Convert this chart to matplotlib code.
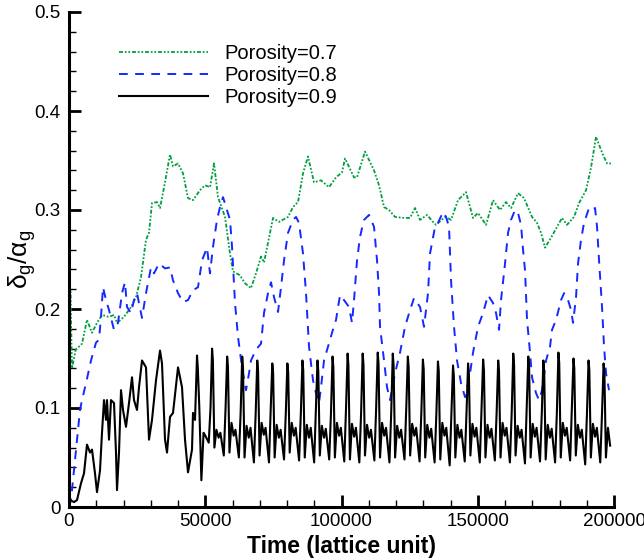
import matplotlib
matplotlib.use("Agg")
import matplotlib.pyplot as plt
from matplotlib.ticker import MultipleLocator, FixedLocator

plt.rcParams['font.family'] = ['Liberation Sans', 'DejaVu Sans']
plt.rcParams['mathtext.fontset'] = 'custom'
plt.rcParams['mathtext.rm'] = 'Liberation Sans'
plt.rcParams['mathtext.it'] = 'Liberation Sans'
plt.rcParams['mathtext.bf'] = 'Liberation Sans:bold'

# ---------------- data ----------------
labels = ["Porosity=0.7", "Porosity=0.8", "Porosity=0.9"]

green_t = [0, 300, 500, 1101, 2459, 3670, 4771, 6606, 8441, 10276, 12111, 14680, 16515,
           17616, 20185, 22754, 24589, 26424, 28259, 29360, 30461, 32296, 33397, 35232,
           37067, 38168, 40003, 41838, 43673, 45508, 48077, 49912, 51747, 53215, 54683,
           57252, 59087, 60188, 62757, 64592, 66794, 68629, 70464, 71565, 73033, 74868,
           77070, 80373, 82208, 84043, 85878, 87713, 89915, 92484, 95420, 97989, 100191,
           101292, 104595, 105696, 108632, 111935, 113770, 115605, 117440, 119642, 122945,
           125147, 126982, 128817, 131386, 133588, 134689, 137992, 140194, 142763, 145699,
           148268, 150103, 153039, 155608, 158177, 160379, 162214, 164783, 166985, 169921,
           171756, 173224, 174692, 176894, 179096, 180931, 182766, 185335, 187170, 189739,
           191574, 193409, 195611, 197446, 198914]
green_v = [0.0, 0.10, 0.219, 0.14, 0.159, 0.162, 0.165, 0.189, 0.176, 0.186, 0.194, 0.192, 0.194,
           0.186, 0.192, 0.202, 0.212, 0.232, 0.270, 0.277, 0.307, 0.308, 0.302, 0.328,
           0.356, 0.344, 0.347, 0.337, 0.312, 0.310, 0.320, 0.325, 0.323, 0.347, 0.313,
           0.293, 0.256, 0.238, 0.234, 0.226, 0.221, 0.236, 0.253, 0.247, 0.267, 0.292,
           0.288, 0.293, 0.303, 0.308, 0.337, 0.354, 0.328, 0.330, 0.323, 0.333, 0.338,
           0.352, 0.333, 0.333, 0.359, 0.340, 0.325, 0.303, 0.300, 0.293, 0.292,
           0.292, 0.302, 0.290, 0.295, 0.288, 0.285, 0.293, 0.290, 0.310, 0.318,
           0.292, 0.297, 0.285, 0.310, 0.300, 0.308, 0.302, 0.317, 0.312, 0.293,
           0.287, 0.277, 0.262, 0.272, 0.283, 0.292, 0.285, 0.293, 0.307, 0.320,
           0.343, 0.374, 0.358, 0.347, 0.347]

blue_t = [0, 734, 1835, 2936, 4037, 4771, 6239, 8074, 9909, 11010, 11744, 12478, 13579, 14680,
          16515, 17983, 19451, 20552, 21286, 22754, 23855, 24956, 26791, 28259, 30094, 31195,
          33030, 35232, 37067, 38168, 40003, 41838, 43673, 45508, 47343, 48811, 50646, 51747,
          52848, 54316, 55417, 56518, 57986, 59087, 59821, 60922, 62023, 63491, 64959, 66060,
          66794, 68629, 70464, 71565, 73033, 74134, 75235, 76703, 77804, 78905, 80373, 82208,
          83309, 84410, 85878, 86979, 88080, 89548, 90649, 91750, 92484, 93585, 95053, 96521,
          97989, 99457, 100925, 102760, 103861, 104595, 105696, 106797, 108265, 110100,
          111935, 113036, 113770, 114137, 115605, 116706, 117807, 119642, 121477, 123312,
          125147, 126615, 128817, 130285, 131753, 132487, 134322, 135423, 137258, 138359,
          139460, 140194, 141295, 142396, 143864, 145332, 147167, 148268, 150103, 151938,
          153773, 155608, 156709, 157810, 158544, 160012, 161113, 162214, 163682, 164783,
          165884, 166618, 167352, 168086, 169187, 169921, 171389, 172490, 173591, 175059,
          176527, 177261, 178729, 180564, 181665, 183133, 184234, 184968, 186069, 186803,
          187904, 189005, 190840, 191941, 193042, 193776, 194510, 195611, 196345, 197079,
          198180]
blue_v = [0.0, 0.007, 0.037, 0.068, 0.098, 0.108, 0.125, 0.148, 0.166, 0.169, 0.192, 0.222, 0.209, 0.199,
          0.179, 0.186, 0.216, 0.227, 0.202, 0.196, 0.209, 0.216, 0.191, 0.216, 0.242, 0.236,
          0.246, 0.241, 0.242, 0.229, 0.216, 0.207, 0.209, 0.219, 0.222, 0.249, 0.262, 0.236,
          0.263, 0.290, 0.303, 0.313, 0.300, 0.290, 0.263, 0.206, 0.172, 0.141, 0.118, 0.135,
          0.148, 0.159, 0.165, 0.196, 0.216, 0.227, 0.212, 0.197, 0.222, 0.249, 0.277, 0.290,
          0.293, 0.287, 0.256, 0.216, 0.162, 0.128, 0.115, 0.105, 0.121, 0.148, 0.162, 0.176,
          0.189, 0.214, 0.209, 0.202, 0.186, 0.209, 0.249, 0.273, 0.290, 0.295,
          0.283, 0.249, 0.216, 0.182, 0.148, 0.121, 0.108, 0.135, 0.156, 0.182,
          0.199, 0.211, 0.202, 0.182, 0.216, 0.256, 0.283, 0.287, 0.298, 0.293,
          0.283, 0.229, 0.182, 0.148, 0.125, 0.111, 0.135, 0.156, 0.182, 0.196,
          0.214, 0.206, 0.196, 0.179, 0.209, 0.246, 0.277, 0.290, 0.300, 0.297,
          0.285, 0.260, 0.239, 0.189, 0.156, 0.131, 0.115, 0.108, 0.118, 0.148,
          0.162, 0.179, 0.189, 0.209, 0.216, 0.209, 0.199, 0.186, 0.212, 0.246,
          0.270, 0.287, 0.302, 0.300, 0.302, 0.283, 0.249, 0.202, 0.162, 0.135,
          0.118]

# Porosity 0.9: irregular start-up
black_early_t = [0, 367, 1835, 2936, 4404, 5505, 6606, 7707, 8441, 9542, 10276, 11377, 12111,
                 12845, 13579, 13946, 14680, 15414, 16515, 17249, 17616, 18350, 19084, 19818,
                 20919, 22020, 23121, 23855, 24956, 25690, 26791, 28259, 29360, 30461, 31929,
                 33397, 34131, 35232, 35966, 37067, 38168, 40003, 41471, 42572, 43673, 45141,
                 45508, 46242]
black_early_v = [0.0, 0.007, 0.005, 0.007, 0.024, 0.034, 0.063, 0.055, 0.058, 0.034, 0.015, 0.037, 0.075,
                 0.108, 0.088, 0.108, 0.068, 0.108, 0.105, 0.055, 0.017, 0.055, 0.118, 0.098,
                 0.081, 0.105, 0.131, 0.108, 0.098, 0.121, 0.148, 0.141, 0.068, 0.088, 0.128,
                 0.158, 0.145, 0.068, 0.055, 0.091, 0.095, 0.141, 0.121, 0.068, 0.035, 0.058,
                 0.095, 0.088]
# Porosity 0.9: periodic regime, one row per cycle (peak time, then values at cycle phases)
black_peak_t = [46980, 52506, 58032, 63558, 69084, 74610, 80136, 85662, 91188, 96714,
                102240, 107766, 113292, 118818, 124344, 129870, 135396, 140922, 146448,
                151974, 157500, 163026, 168552, 174078, 179604, 185130, 190656, 196182]
black_phase_t = [0, 300, 850, 1600, 2400, 3050, 4300, 4950]
black_cycle_v = [
    [0.153, 0.140, 0.100, 0.027, 0.075, 0.072, 0.065, 0.100],
    [0.160, 0.148, 0.060, 0.078, 0.070, 0.075, 0.052, 0.100],
    [0.152, 0.142, 0.055, 0.085, 0.072, 0.078, 0.050, 0.095],
    [0.152, 0.141, 0.050, 0.082, 0.070, 0.080, 0.045, 0.095],
    [0.148, 0.138, 0.052, 0.085, 0.073, 0.080, 0.045, 0.100],
    [0.145, 0.135, 0.050, 0.083, 0.070, 0.078, 0.048, 0.095],
    [0.145, 0.136, 0.055, 0.085, 0.072, 0.080, 0.047, 0.095],
    [0.148, 0.138, 0.050, 0.083, 0.070, 0.080, 0.045, 0.100],
    [0.148, 0.137, 0.052, 0.082, 0.070, 0.079, 0.048, 0.095],
    [0.152, 0.141, 0.050, 0.085, 0.072, 0.080, 0.046, 0.100],
    [0.155, 0.143, 0.048, 0.084, 0.071, 0.080, 0.045, 0.095],
    [0.155, 0.144, 0.052, 0.083, 0.070, 0.078, 0.047, 0.100],
    [0.156, 0.145, 0.050, 0.085, 0.072, 0.080, 0.045, 0.095],
    [0.155, 0.143, 0.050, 0.082, 0.070, 0.078, 0.048, 0.100],
    [0.152, 0.141, 0.052, 0.084, 0.072, 0.080, 0.046, 0.095],
    [0.149, 0.139, 0.050, 0.083, 0.070, 0.079, 0.045, 0.095],
    [0.147, 0.137, 0.048, 0.085, 0.072, 0.080, 0.042, 0.095],
    [0.143, 0.133, 0.050, 0.083, 0.070, 0.078, 0.046, 0.095],
    [0.145, 0.135, 0.052, 0.084, 0.071, 0.080, 0.045, 0.100],
    [0.149, 0.138, 0.050, 0.083, 0.070, 0.079, 0.047, 0.095],
    [0.148, 0.138, 0.050, 0.085, 0.072, 0.080, 0.045, 0.095],
    [0.155, 0.144, 0.052, 0.082, 0.070, 0.078, 0.044, 0.100],
    [0.152, 0.141, 0.050, 0.084, 0.071, 0.080, 0.046, 0.095],
    [0.148, 0.137, 0.048, 0.083, 0.070, 0.079, 0.045, 0.095],
    [0.156, 0.145, 0.050, 0.085, 0.072, 0.080, 0.047, 0.100],
    [0.150, 0.140, 0.052, 0.083, 0.070, 0.078, 0.043, 0.095],
    [0.148, 0.138, 0.050, 0.084, 0.071, 0.080, 0.045, 0.095],
    [0.145, 0.135, 0.050, 0.080, 0.062],
]

x_ticks = [0, 50000, 100000, 150000, 200000]
x_ticklabels = ["0", "50000", "100000", "150000", "200000"]
y_ticks = [0, 0.1, 0.2, 0.3, 0.4, 0.5]
y_ticklabels = ["0", "0.1", "0.2", "0.3", "0.4", "0.5"]

# assemble black series
black_t = list(black_early_t)
black_v = list(black_early_v)
for pt, row in zip(black_peak_t, black_cycle_v):
    for ph, v in zip(black_phase_t, row):
        black_t.append(pt + ph)
        black_v.append(v)

# ---------------- plot ----------------
fig = plt.figure(figsize=(6.44, 5.60), dpi=100)
ax = fig.add_axes([69/644, 1 - 507/560, 545/644, 495/560])

ax.plot(green_t, green_v, color='#00a040', lw=1.3, ls=(0, (2.2, 1.0, 1.0, 1.0, 1.0, 1.0)),
        label=labels[0])
ax.plot(blue_t, blue_v, color='#1428ff', lw=1.4, ls=(0, (4.5, 3.8)), label=labels[1])
ax.plot(black_t, black_v, color='black', lw=1.5, label=labels[2])

ax.set_xlim(0, 200000)
ax.set_ylim(0, 0.5)
ax.xaxis.set_major_locator(FixedLocator(x_ticks))
ax.set_xticklabels(x_ticklabels)
ax.yaxis.set_major_locator(FixedLocator(y_ticks))
ax.set_yticklabels(y_ticklabels)
ax.xaxis.set_minor_locator(MultipleLocator(10000))
ax.yaxis.set_minor_locator(MultipleLocator(0.02))

for s in ['top', 'right']:
    ax.spines[s].set_visible(False)
for s in ['left', 'bottom']:
    ax.spines[s].set_linewidth(2.2)

ax.tick_params(which='major', direction='in', length=8.5, width=2.0, labelsize=13.5)
ax.tick_params(which='minor', direction='in', length=5, width=1.0)
ax.tick_params(axis='y', which='major', pad=6)
ax.tick_params(axis='x', which='major', pad=4)

ax.set_xlabel("Time (lattice unit)", fontsize=16.5, fontweight='bold', labelpad=4)
ax.set_ylabel(r"$\delta_g/\alpha_g$", fontsize=19)
ax.yaxis.set_label_coords(-0.056, 0.5)

leg = ax.legend(loc='upper left', bbox_to_anchor=(119/644, 1 - 44/560),
                bbox_transform=fig.transFigure, frameon=False, fontsize=14.5,
                handlelength=4.4, handletextpad=0.85, labelspacing=0.15,
                borderaxespad=0, borderpad=0)

fig.savefig("out.png", dpi=100)
